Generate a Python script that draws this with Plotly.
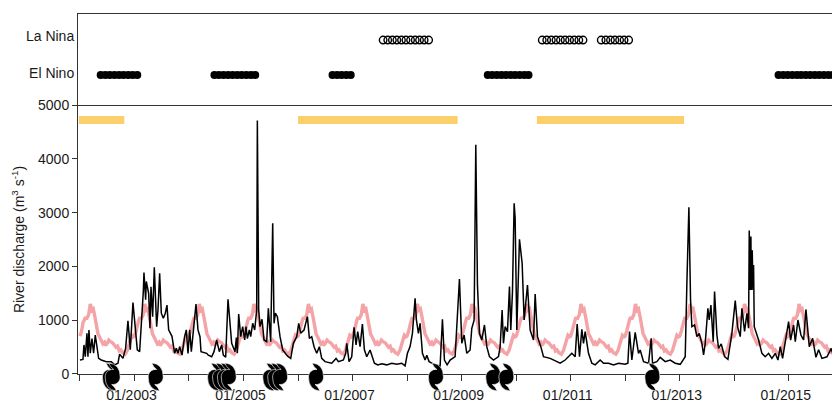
import pandas as pd
import plotly.graph_objects as go

# ---- river discharge: time index (1 step = 2.234 days since 2002-01-01), m3/s
flow_steps = [
 0,9,12,16,21,24,27,31,36,41,46,51,56,64,79,94,104,114,119,129,137,144,151,159,172,179,184,190,192,197,199,206,210,213,218,223,230,234,239,244,250,256,261,266,276,284,289,294,299,306,314,319,324,329,334,342,348,354,
 360,363,380,385,395,402,410,418,425,430,437,444,450,455,465,469,472,476,482,488,494,498,502,508,512,518,524,530,532,536,540,546,552,560,565,572,578,582,586,592,600,608,622,632,640,650,656,662,672,682,688,695,702,710,718,725,
 735,755,768,775,790,797,800,807,815,822,828,833,840,847,853,860,870,883,893,905,920,935,950,965,975,982,990,997,1005,1009,1015,1020,1027,1035,1040,1047,1065,1080,1087,1093,1101,
 1110,1125,1138,1145,1152,1160,1170,1175,1182,1187,1192,1198,1205,1213,1220,1228,1240,1255,1260,1266,1270,1275,1282,1288,1292,1297,1302,1305,1310,1318,1323,1326,1332,1342,1350,1360,1365,1372,1382,1390,1410,1430,1440,1455,1465,1475,
 1485,1491,1498,1505,1510,1515,1525,1535,1545,1560,1570,1585,1600,1615,1635,1643,1648,1655,1665,1675,1680,1690,1705,1713,1717,1730,1740,1755,1770,1785,1800,1815,1820,1826,1831,1835,1843,1850,1857,1865,1870,
 1875,1883,1887,1892,1899,1903,1910,1915,1923,1933,1943,1955,1965,1972,1980,1985,1993,2000,2005,2007,2010,2012,2013,2016,2018,2020,2022,2035,2045,2055,2065,2075,2085,2093,2100,2107,2115,2125,2131,2140,2145,2153,2162,2170,2177,2187,2197,2207,2215,2225,2240,2253,2256,
]
flow_values = [
 260,270,540,320,756,320,818,385,660,385,725,510,290,260,230,230,170,200,370,290,480,990,450,1330,450,415,880,1530,1885,1380,1720,1500,850,1620,1066,1984,880,1190,1870,1130,1035,1130,1280,820,700,385,480,385,510,350,700,820,380,820,415,1000,1300,820,
 694,415,385,350,320,415,632,415,540,350,310,1390,940,570,415,676,385,1116,694,880,632,880,660,818,694,942,818,1190,4712,1190,880,1017,632,600,1220,600,2802,942,1130,1066,694,446,335,290,570,694,942,760,818,1066,663,694,508,385,508,290,
 230,200,290,230,260,385,570,230,320,868,540,787,510,930,450,320,446,200,170,190,170,200,180,200,150,385,510,756,1407,1000,756,942,385,260,350,230,170,150,1017,260,170,
 260,322,1767,570,725,384,446,850,1000,4260,1655,756,632,911,508,322,260,322,508,1190,570,880,787,1624,818,1531,3174,2895,818,2505,2182,2058,1004,1655,818,632,1488,694,508,322,290,230,200,260,322,384,
 322,930,322,830,570,787,384,200,170,260,200,200,170,200,180,200,787,260,775,384,446,230,200,663,200,230,310,230,260,200,180,322,1686,3100,1376,880,911,694,756,570,353,
 570,1221,1004,1283,600,1531,725,477,558,322,273,756,1364,880,694,1221,790,1128,850,2666,1560,2554,1560,2300,1560,2027,880,632,384,322,384,290,384,260,508,290,570,973,630,911,600,1004,725,632,1200,508,663,310,450,290,320,477,400,
]

# ---- seasonal mean discharge, one annual cycle (fraction of the year, m3/s)
season_fraction = [0.00,0.03,0.06,0.08,0.10,0.12,0.16,0.19,0.22,0.245,0.275,0.30,0.33,0.36,0.38,0.42,0.45,0.47,0.50,0.53,0.56,0.60,0.63,0.66,0.69,0.72,0.75,0.78,0.83,0.87,0.91,0.93,0.95,0.98]
season_values   = [704,800,970,1000,1060,1020,1100,1300,1190,1210,1060,880,750,690,640,560,590,530,570,630,600,580,540,500,520,430,450,400,370,440,580,640,720,690]
years = list(range(2002, 2016))

# ---- ENSO months
el_nino_periods = [("2002-05-20","2003-01-20"),("2004-06-20","2005-03-20"),("2006-08-20","2006-12-20"),
                   ("2009-06-25","2010-03-25"),("2014-10-25","2015-10-25")]
la_nina_periods = [("2007-07-25","2008-05-25"),("2010-06-25","2011-03-25"),("2011-07-25","2012-01-25")]
el_nino_row, la_nina_row = 0.33, 0.714
row_tick_positions = [0.352, 0.758]
row_tick_labels = ["El Nino", "La Nina"]

# ---- dry periods
dry_periods = [("2001-12-25","2002-10-25"),("2006-01-01","2008-12-05"),("2010-05-20","2013-01-30")]
dry_level = 4721

# ---- cyclones (decimal year)
cyclone_years = [2002.55,2002.6,2003.39,2004.48,2004.57,2004.66,2004.73,2005.49,2005.58,2005.67,2006.33,2008.53,2009.58,2009.82,2012.5]

y_ticks = [0,1000,2000,3000,4000,5000]
labelled_years = [2003,2005,2007,2009,2011,2013,2015]
tick_years = list(range(2002, 2016))
label_lead_days = 20

BLACK = "#000000"
PINK = "#F4A3A6"
GOLD = "#FBD06B"
AX = "#333333"
FONT = dict(family="Liberation Sans, Arial, sans-serif", size=14, color="#1a1a1a")

def yr(v):
    y = int(v)
    return pd.Timestamp(f"{y}-01-01") + pd.Timedelta(days=(v - y) * 365.25)

flow_dates = [pd.Timestamp("2002-01-01") + pd.Timedelta(days=s * 2.234) for s in flow_steps]
season_dates, season_flow = [], []
for y in years:
    for f, v in zip(season_fraction, season_values):
        season_dates.append(yr(y + f)); season_flow.append(v)

def months(periods):
    out = []
    for a, b in periods:
        out += list(pd.date_range(a, b, freq=pd.DateOffset(months=1)))
    return out

fig = go.Figure()
fig.add_trace(go.Scatter(x=season_dates, y=season_flow, mode="lines", line=dict(color=PINK, width=3.4), showlegend=False))
fig.add_trace(go.Scatter(x=flow_dates, y=flow_values, mode="lines", line=dict(color=BLACK, width=1.5), showlegend=False))
for a, b in dry_periods:
    fig.add_trace(go.Scatter(x=[a, b], y=[dry_level, dry_level], mode="lines", line=dict(color=GOLD, width=8), showlegend=False))
en = months(el_nino_periods); ln = months(la_nina_periods)
fig.add_trace(go.Scatter(x=en, y=[el_nino_row]*len(en), xaxis="x2", yaxis="y2", mode="markers",
                         marker=dict(color=BLACK, size=8), showlegend=False))
fig.add_trace(go.Scatter(x=ln, y=[la_nina_row]*len(ln), xaxis="x2", yaxis="y2", mode="markers",
                         marker=dict(color="rgba(0,0,0,0)", size=7.5, line=dict(color=BLACK, width=1.4)), showlegend=False))

swirl = ("M -4 14 Q 7.5 13 7.5 0 C 7.5 -4.5 4 -8 -1 -7.5 Q 2.5 -10 4 -14 "
         "Q -7.5 -13 -7.5 0 C -7.5 4.5 -4 8 1 7.5 Q -2.5 10 -4 14 Z")
shapes = [dict(type="path", xref="x", yref="paper", xsizemode="pixel", ysizemode="pixel",
               xanchor=yr(c), yanchor=-0.0083, path=swirl, fillcolor=BLACK, line=dict(color="white", width=0.6),
               layer="above") for c in cyclone_years]

x_range = ["2001-12-19", "2015-10-18"]
label_dates = [pd.Timestamp(f"{y}-01-01") - pd.Timedelta(days=label_lead_days) for y in labelled_years]
fig.update_layout(
    width=832, height=402, margin=dict(l=78, r=0, t=14, b=28, autoexpand=False),
    paper_bgcolor="white", plot_bgcolor="white", font=FONT, showlegend=False, shapes=shapes,
    xaxis=dict(type="date", range=x_range, anchor="y", tickmode="array", tickvals=label_dates,
               ticktext=[f"01/{y}" for y in labelled_years], ticks="outside", ticklen=6, tickwidth=0, tickcolor="rgba(0,0,0,0)", showgrid=False, zeroline=False,
               showline=True, linecolor=AX, linewidth=1, tickangle=0, tickfont=FONT, ticklabelstandoff=2,
               minor=dict(tickmode="array", tickvals=[f"{y}-01-01" for y in tick_years], ticks="outside", ticklen=6, tickwidth=1, tickcolor=AX, showgrid=False)),
    yaxis=dict(range=[0, 5000], domain=[0, 0.7472], tickvals=y_ticks, ticks="outside", ticklen=5, tickwidth=1, tickcolor=AX,
               showgrid=False, zeroline=False, showline=True, linecolor=AX, linewidth=1, tickfont=FONT,
               title=dict(text="River discharge (m<sup>3</sup> s<sup>-1</sup>)", font=FONT, standoff=10)),
    xaxis2=dict(type="date", range=x_range, anchor="y2", showticklabels=False, ticks="", showgrid=False,
                zeroline=False, showline=True, mirror=True, linecolor=AX, linewidth=1),
    yaxis2=dict(range=[0, 1], domain=[0.7472, 1], anchor="x2", tickmode="array", tickvals=row_tick_positions, ticktext=row_tick_labels,
                ticks="", showgrid=False, zeroline=False, showline=True, linecolor=AX, linewidth=1, tickfont=FONT),
)
fig.write_html("out.html", post_script="document.body.style.margin='0';", config={"displayModeBar": False})
